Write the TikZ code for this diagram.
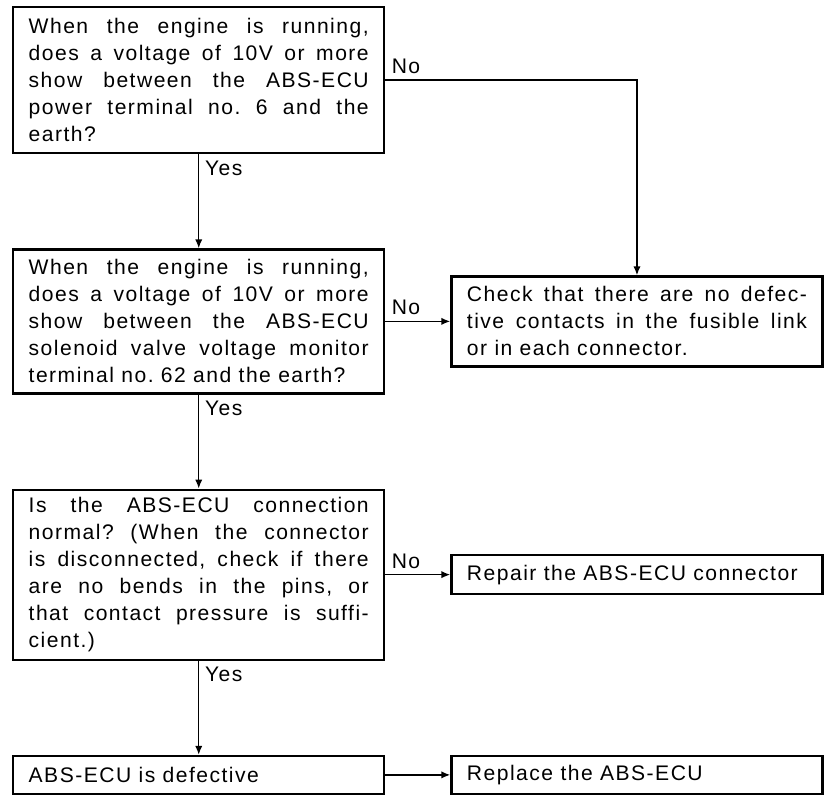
\documentclass[tikz,border=0pt]{standalone}
\usepackage{fontspec}
\setmainfont{Liberation Sans}[LetterSpace=7]
\usepackage{tikz}
\usetikzlibrary{arrows.meta, positioning}
\tolerance=10000
\hbadness=10000
\frenchspacing

\begin{document}
\begin{tikzpicture}[
  node distance=2.35cm and 1.62cm,
  box/.style ={rectangle, draw=black, line width=1.6pt, text width=8.5cm,
               inner xsep=0.39cm, inner ysep=0.1cm, align=justify,
               font=\fontsize{15}{19.2}\selectfont},
  lbl/.style ={inner sep=4pt, font=\fontsize{15}{19.2}\selectfont},
  arr/.style ={-{Latex[length=2.2mm,width=1.8mm]}, line width=1pt}
]
\useasboundingbox (0,0) rectangle (20.65,-19.95);
% ---- Questions (left column) -----------------------------------------------
\node[box, anchor=north west, minimum height=3.65cm] (q1) at (0.3,-0.15)
  {When the engine is running,\linebreak does a voltage of 10V or more\linebreak
   show between the ABS-ECU\linebreak power terminal no. 6 and the\linebreak earth?};
\node[box, below=of q1, minimum height=3.6cm] (q2)
  {When the engine is running,\linebreak does a voltage of 10V or more\linebreak
   show between the ABS-ECU\linebreak solenoid valve voltage monitor\linebreak
   terminal no. 62 and the earth?};
\node[box, below=of q2, minimum height=4.25cm] (q3)
  {Is the ABS-ECU connection\linebreak normal? (When the connector\linebreak
   is disconnected, check if there\linebreak are no bends in the pins, or\linebreak
   that contact pressure is suffi-\linebreak cient.)};
\node[box, below=of q3, minimum height=0.95cm] (bad) {ABS-ECU is defective};
% ---- Actions (right column) ------------------------------------------------
\node[box, right=of q2, minimum height=2.25cm] (chk)
  {Check that there are no defec-\linebreak tive contacts in the fusible link\linebreak
   or in each connector.};
\node[box, right=of q3, minimum height=0.975cm] (rep) {Repair the ABS-ECU connector};
\node[box, right=of bad, minimum height=0.95cm] (rpl) {Replace the ABS-ECU};
% ---- Arrows ----------------------------------------------------------------
\draw[arr] (q1.east) -| node[lbl, pos=0, anchor=south west] {No} (chk.north);
\draw[arr] (q1.south) -- node[lbl, pos=0, anchor=north west] {Yes} (q2.north);
\draw[arr] (q2.east) -- node[lbl, pos=0, anchor=south west] {No} (chk.west);
\draw[arr] (q2.south) -- node[lbl, pos=0, anchor=north west] {Yes} (q3.north);
\draw[arr] (q3.east) -- node[lbl, pos=0, anchor=south west] {No} (rep.west);
\draw[arr] (q3.south) -- node[lbl, pos=0, anchor=north west] {Yes} (bad.north);
\draw[arr] (bad) -- (rpl);
\end{tikzpicture}
\end{document}
